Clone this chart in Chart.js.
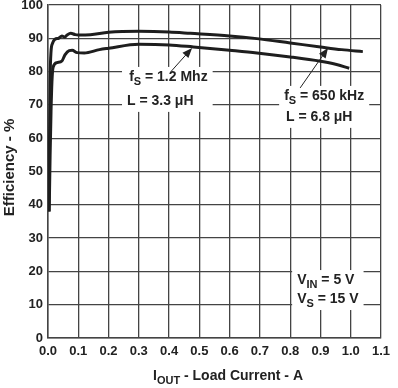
<!DOCTYPE html>
<html>
<head>
<meta charset="utf-8">
<script src="https://cdn.jsdelivr.net/npm/chart.js@4.4.0/dist/chart.umd.min.js"></script>
<style>
  html, body { margin: 0; padding: 0; background: #fff; }
</style>
</head>
<body>
<canvas id="chartEff" width="398" height="388"></canvas>
<script>
// efficiency curves (x = load current A, y = efficiency %)
var upperX = [0.003, 0.005, 0.007, 0.01, 0.015, 0.023, 0.035, 0.046, 0.055, 0.063, 0.075, 0.09, 0.1, 0.14, 0.2, 0.3, 0.4, 0.47, 0.6, 0.69, 0.8, 0.9, 0.97, 1.04];
var upperY = [38, 60, 78, 86, 88.5, 89.7, 90, 90.7, 90.4, 91, 91.5, 91.1, 91, 91.1, 91.8, 92.1, 91.9, 91.5, 90.7, 89.9, 88.6, 87.4, 86.6, 86];
var lowerX = [0.004, 0.007, 0.01, 0.013, 0.017, 0.03, 0.046, 0.056, 0.07, 0.08, 0.096, 0.12, 0.17, 0.2, 0.3, 0.4, 0.48, 0.6, 0.69, 0.8, 0.9, 0.95, 0.995];
var lowerY = [38, 55, 68, 77, 81.4, 82.7, 83.2, 85, 86.3, 86.4, 85.7, 85.6, 86.6, 87, 88.2, 88, 87.4, 86.4, 85.6, 84.4, 83.1, 82.2, 81];

var xTicks = [0, 0.1, 0.2, 0.3, 0.4, 0.5, 0.6, 0.7, 0.8, 0.9, 1.0, 1.1];
var yTicks = [0, 10, 20, 30, 40, 50, 60, 70, 80, 90, 100];

var FONT = '"Liberation Sans", Arial, Helvetica, sans-serif';

// text notes on the plot, placed in data units
var noteBlocks = [
  { lines: [
      { x: 0.268, y: 77.2, parts: [{ t: 'f' }, { t: 'S', sub: true }, { t: ' = 1.2 Mhz' }] },
      { x: 0.261, y: 70.0, parts: [{ t: 'L = 3.3 \u03bcH' }] }
  ] },
  { lines: [
      { x: 0.78, y: 71.5, parts: [{ t: 'f' }, { t: 'S', sub: true }, { t: ' = 650 kHz' }] },
      { x: 0.786, y: 65.2, parts: [{ t: 'L = 6.8 \u03bcH' }] }
  ] },
  { lines: [
      { x: 0.823, y: 16.2, parts: [{ t: 'V' }, { t: 'IN', sub: true }, { t: ' = 5 V' }] },
      { x: 0.823, y: 10.5, parts: [{ t: 'V' }, { t: 'S', sub: true }, { t: ' = 15 V' }] }
  ] }
];
var arrows = [
  { from: [0.406, 80.0], to: [0.476, 87.1] },
  { from: [0.833, 75.1], to: [0.925, 87.1] }
];

function toPoints(xs, ys) {
  return xs.map(function (x, i) { return { x: x, y: ys[i] }; });
}

function richWidth(ctx, parts, size) {
  var w = 0;
  parts.forEach(function (p) {
    ctx.font = 'bold ' + (p.sub ? Math.round(size * 0.75) : size) + 'px ' + FONT;
    w += ctx.measureText(p.t).width;
  });
  return w;
}

function drawRich(ctx, parts, x, y, size) {
  parts.forEach(function (p) {
    ctx.font = 'bold ' + (p.sub ? Math.round(size * 0.75) : size) + 'px ' + FONT;
    ctx.fillText(p.t, x, y + (p.sub ? 4 : 0));
    x += ctx.measureText(p.t).width;
  });
}

var notesPlugin = {
  id: 'notes',
  beforeDatasetsDraw: function (chart) {
    var ctx = chart.ctx, xs = chart.scales.x, ys = chart.scales.y;
    ctx.save();
    ctx.fillStyle = '#fff';
    noteBlocks.forEach(function (b) {
      var x0 = Infinity, x1 = -Infinity, y0 = Infinity, y1 = -Infinity;
      b.lines.forEach(function (l) {
        var px = xs.getPixelForValue(l.x), py = ys.getPixelForValue(l.y);
        var w = richWidth(ctx, l.parts, 14);
        x0 = Math.min(x0, px); x1 = Math.max(x1, px + w);
        y0 = Math.min(y0, py - 14); y1 = Math.max(y1, py + 7);
      });
      ctx.fillRect(x0 - 5, y0, x1 - x0 + 10, y1 - y0);
    });
    ctx.restore();
  },
  afterDraw: function (chart) {
    var ctx = chart.ctx, xs = chart.scales.x, ys = chart.scales.y, area = chart.chartArea;
    ctx.save();
    ctx.fillStyle = '#222';
    ctx.textBaseline = 'alphabetic';
    ctx.textAlign = 'left';
    noteBlocks.forEach(function (b) {
      b.lines.forEach(function (l) {
        drawRich(ctx, l.parts, xs.getPixelForValue(l.x), ys.getPixelForValue(l.y), 14);
      });
    });

    // arrows
    ctx.strokeStyle = '#222';
    ctx.lineWidth = 1;
    arrows.forEach(function (a) {
      var x0 = xs.getPixelForValue(a.from[0]), y0 = ys.getPixelForValue(a.from[1]);
      var x1 = xs.getPixelForValue(a.to[0]), y1 = ys.getPixelForValue(a.to[1]);
      var ang = Math.atan2(y1 - y0, x1 - x0);
      ctx.beginPath();
      ctx.moveTo(x0, y0);
      ctx.lineTo(x1 - 6 * Math.cos(ang), y1 - 6 * Math.sin(ang));
      ctx.stroke();
      ctx.beginPath();
      ctx.moveTo(x1, y1);
      ctx.lineTo(x1 - 10 * Math.cos(ang) + 4 * Math.sin(ang), y1 - 10 * Math.sin(ang) - 4 * Math.cos(ang));
      ctx.lineTo(x1 - 10 * Math.cos(ang) - 4 * Math.sin(ang), y1 - 10 * Math.sin(ang) + 4 * Math.cos(ang));
      ctx.closePath();
      ctx.fill();
    });

    // axis titles (drawn here for the subscripts)
    drawRich(ctx, [{ t: 'I' }, { t: 'OUT', sub: true }, { t: ' - Load Current - A' }], area.left + 105, area.bottom + 42, 14);
    ctx.save();
    ctx.translate(10, (area.top + area.bottom) / 2 - 4);
    ctx.rotate(-Math.PI / 2);
    ctx.textAlign = 'center';
    ctx.textBaseline = 'middle';
    ctx.font = 'bold 15px ' + FONT;
    ctx.fillText('Efficiency - %', 0, 0);
    ctx.restore();
    ctx.restore();
  }
};

document.addEventListener("DOMContentLoaded", function () {
  var ctx = document.getElementById('chartEff').getContext('2d');
  var lineStyle = {
    borderColor: '#1e1e1e',
    borderWidth: 3,
    pointRadius: 0,
    fill: false,
    cubicInterpolationMode: 'monotone'
  };
  new Chart(ctx, {
    type: 'line',
    data: {
      datasets: [
        Object.assign({ label: '650 kHz', data: toPoints(upperX, upperY) }, lineStyle),
        Object.assign({ label: '1.2 MHz', data: toPoints(lowerX, lowerY) }, lineStyle)
      ]
    },
    options: {
      responsive: false,
      animation: false,
      layout: { padding: { top: 0, right: 17, left: 0, bottom: 0 } },
      plugins: {
        legend: { display: false },
        tooltip: { enabled: false }
      },
      scales: {
        x: {
          type: 'linear',
          min: 0,
          max: 1.1,
          afterBuildTicks: function (s) { s.ticks = xTicks.map(function (v) { return { value: v }; }); },
          afterFit: function (s) { s.height = 50; s.paddingLeft = 0; s.paddingRight = 0; },
          ticks: {
            padding: 6,
            color: '#222',
            maxRotation: 0,
            autoSkip: false,
            font: { family: FONT, size: 13, weight: 'bold' },
            callback: function (v) { return Number(v).toFixed(1); }
          },
          grid: { color: '#444', lineWidth: 1.3, drawTicks: false },
          border: { color: '#444', width: 1.5 }
        },
        y: {
          min: 0,
          max: 100,
          afterBuildTicks: function (s) { s.ticks = yTicks.map(function (v) { return { value: v }; }); },
          afterFit: function (s) { s.width = 48; s.paddingTop = 5; s.paddingBottom = 0; },
          ticks: {
            padding: 5,
            color: '#222',
            autoSkip: false,
            font: { family: FONT, size: 13, weight: 'bold' }
          },
          grid: { color: '#444', lineWidth: 1.3, drawTicks: false },
          border: { color: '#444', width: 1.5 }
        }
      }
    },
    plugins: [notesPlugin]
  });
});
</script>
</body>
</html>
